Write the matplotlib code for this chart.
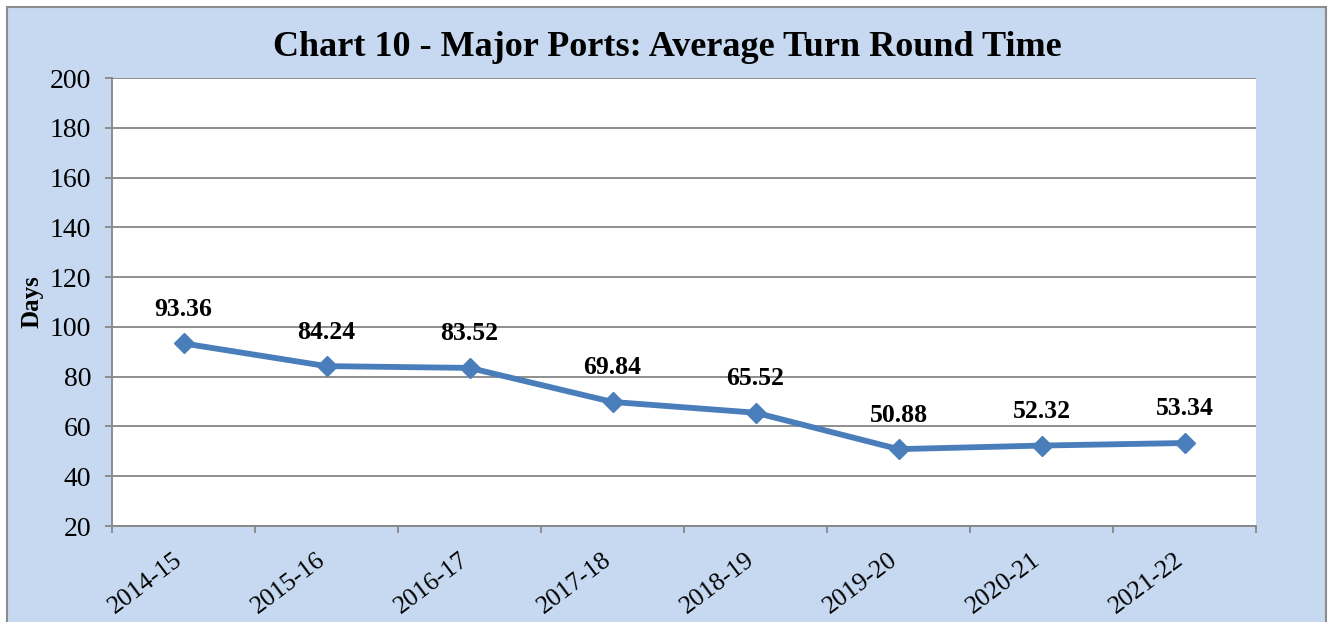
import matplotlib.pyplot as plt
from matplotlib.patches import Rectangle

years = ["2014-15", "2015-16", "2016-17", "2017-18", "2018-19", "2019-20", "2020-21", "2021-22"]
turn_round = [93.36, 84.24, 83.52, 69.84, 65.52, 50.88, 52.32, 53.34]
y_ticks = [20, 40, 60, 80, 100, 120, 140, 160, 180, 200]

plt.rcParams['font.family'] = ['Liberation Serif', 'DejaVu Serif']

W, H = 1334, 622
fig = plt.figure(figsize=(W / 100, H / 100), dpi=100, facecolor="white")

# light blue chart area with grey border
fig.patches.append(Rectangle((7 / W, -0.01), (1326 - 7) / W, (H - 7) / H + 0.01,
                             transform=fig.transFigure, facecolor="#c6d9f0",
                             edgecolor="#8c8c8c", linewidth=1.5, zorder=-10))

ax = fig.add_axes([112 / W, 1 - 526 / H, (1256 - 112) / W, (526 - 78) / H])
ax.set_facecolor("white")

x = list(range(len(years)))
ax.plot(x, turn_round, color="#4a7ebb", linewidth=4.2, marker="D",
        markersize=10, zorder=3, solid_capstyle="round")

for xi, v in zip(x, turn_round):
    ax.annotate(f"{v:.2f}", (xi, v), xytext=(0, 24.5), textcoords="offset points",
                ha="center", va="center", fontsize=18.5, fontweight="bold")

ax.set_xlim(-0.5, len(years) - 0.5)
ax.set_ylim(20, 200)
ax.set_yticks(y_ticks)
ax.set_yticklabels([str(t) for t in y_ticks], fontsize=20)
ax.grid(axis="y", color="#868686", linewidth=1.3)
ax.set_axisbelow(True)

# category ticks sit between categories
ax.set_xticks([i - 0.5 for i in range(len(years) + 1)])
ax.set_xticklabels([])
ax.set_xticks(x, minor=True)
ax.set_xticklabels(years, minor=True, rotation=37, ha="right", va="baseline",
                   rotation_mode="anchor", fontsize=18.5)
ax.tick_params(axis="x", which="minor", length=0, pad=26)
ax.tick_params(axis="x", which="major", length=5, width=1.3, color="#868686")
ax.tick_params(axis="y", length=5, width=1.3, color="#868686", pad=10)

for side in ["top", "right"]:
    ax.spines[side].set_visible(False)
for side in ["left", "bottom"]:
    ax.spines[side].set_color("#868686")
    ax.spines[side].set_linewidth(1.3)

ax.set_ylabel("Days", fontsize=18, fontweight="bold")
ax.yaxis.set_label_coords((43 - 112) / 1144, 0.5)

fig.text(667 / W, 1 - 48 / H, "Chart 10 - Major Ports: Average Turn Round Time",
         ha="center", va="center", fontsize=26, fontweight="bold")

fig.savefig("out.png", dpi=100, facecolor=fig.get_facecolor())
